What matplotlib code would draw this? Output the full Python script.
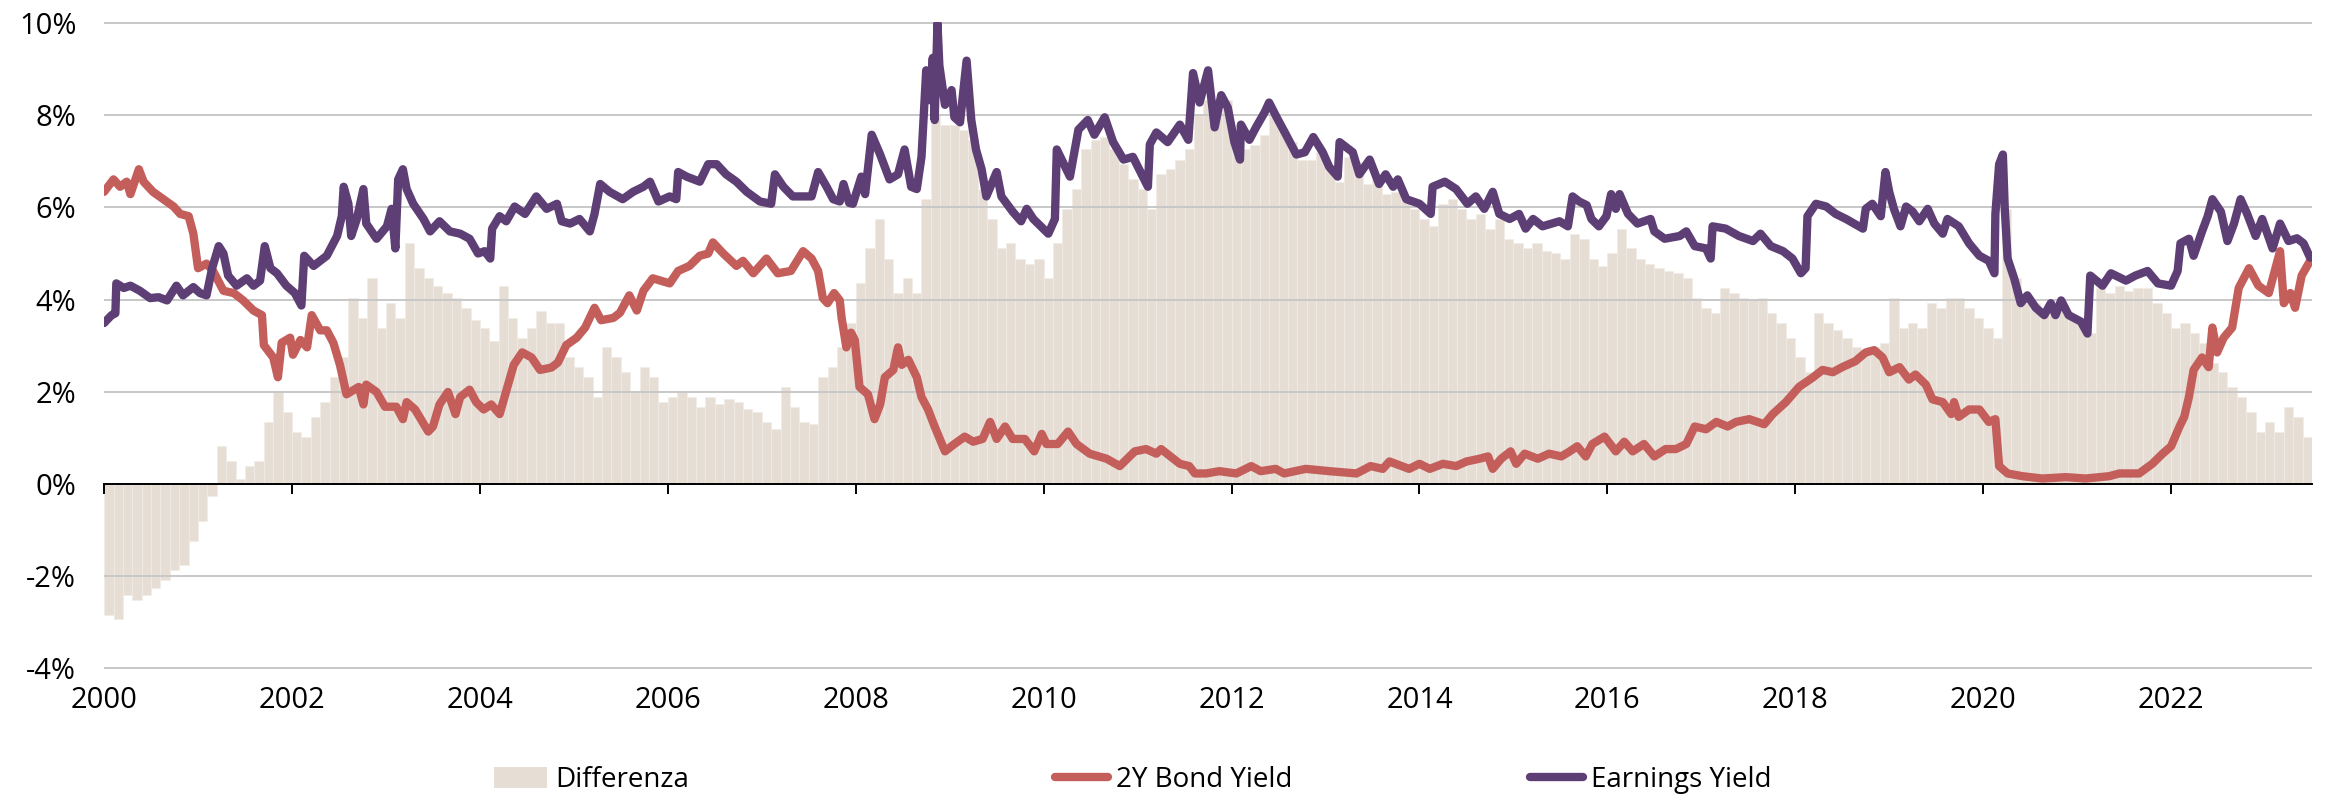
import matplotlib
matplotlib.use("Agg")
import matplotlib.pyplot as plt
from matplotlib.patches import Patch
from matplotlib.lines import Line2D
import numpy as np

plt.rcParams['font.family'] = ['Open Sans', 'DejaVu Sans']

# Earnings Yield (%)
ey_years = [
    2000.00, 2000.08, 2000.12, 2000.13, 2000.21, 2000.28, 2000.38, 2000.49, 2000.58, 2000.67,
    2000.77, 2000.84, 2000.95, 2001.02, 2001.09, 2001.15, 2001.22, 2001.27, 2001.32, 2001.41,
    2001.52, 2001.59, 2001.66, 2001.71, 2001.77, 2001.84, 2001.94, 2002.03, 2002.10, 2002.13,
    2002.23, 2002.37, 2002.48, 2002.53, 2002.55, 2002.60, 2002.63, 2002.69, 2002.76, 2002.79,
    2002.90, 2003.01, 2003.06, 2003.10, 2003.13, 2003.18, 2003.22, 2003.29, 2003.40, 2003.47,
    2003.57, 2003.68, 2003.79, 2003.89, 2003.98, 2004.05, 2004.11, 2004.13, 2004.21, 2004.28,
    2004.37, 2004.48, 2004.60, 2004.71, 2004.82, 2004.87, 2004.96, 2005.06, 2005.17, 2005.22,
    2005.28, 2005.38, 2005.52, 2005.63, 2005.74, 2005.81, 2005.90, 2006.02, 2006.09, 2006.11,
    2006.20, 2006.34, 2006.43, 2006.52, 2006.62, 2006.73, 2006.84, 2006.98, 2007.10, 2007.14,
    2007.23, 2007.33, 2007.53, 2007.60, 2007.69, 2007.76, 2007.83, 2007.87, 2007.93, 2007.97,
    2008.06, 2008.10, 2008.17, 2008.26, 2008.36, 2008.45, 2008.52, 2008.59, 2008.65, 2008.70,
    2008.75, 2008.79, 2008.82, 2008.84, 2008.87, 2008.89, 2008.95, 2009.02, 2009.05, 2009.11,
    2009.18, 2009.23, 2009.28, 2009.34, 2009.39, 2009.50, 2009.55, 2009.67, 2009.76, 2009.82,
    2009.89, 2010.05, 2010.12, 2010.14, 2010.28, 2010.37, 2010.47, 2010.54, 2010.65, 2010.74,
    2010.85, 2010.95, 2011.11, 2011.13, 2011.20, 2011.32, 2011.45, 2011.54, 2011.59, 2011.66,
    2011.75, 2011.82, 2011.89, 2011.96, 2012.03, 2012.09, 2012.10, 2012.19, 2012.26, 2012.35,
    2012.40, 2012.48, 2012.58, 2012.69, 2012.78, 2012.87, 2012.97, 2013.04, 2013.13, 2013.15,
    2013.29, 2013.36, 2013.47, 2013.57, 2013.64, 2013.72, 2013.77, 2013.86, 2014.00, 2014.12,
    2014.14, 2014.27, 2014.39, 2014.51, 2014.60, 2014.69, 2014.78, 2014.85, 2014.96, 2015.06,
    2015.13, 2015.21, 2015.31, 2015.49, 2015.58, 2015.63, 2015.70, 2015.78, 2015.83, 2015.91,
    2015.99, 2016.04, 2016.09, 2016.13, 2016.22, 2016.32, 2016.46, 2016.50, 2016.61, 2016.77,
    2016.84, 2016.93, 2017.05, 2017.10, 2017.12, 2017.26, 2017.40, 2017.55, 2017.63, 2017.74,
    2017.87, 2017.97, 2018.06, 2018.11, 2018.13, 2018.22, 2018.33, 2018.43, 2018.54, 2018.72,
    2018.75, 2018.82, 2018.91, 2018.96, 2019.00, 2019.05, 2019.12, 2019.18, 2019.25, 2019.32,
    2019.41, 2019.48, 2019.57, 2019.62, 2019.74, 2019.85, 2019.96, 2020.06, 2020.12, 2020.13,
    2020.17, 2020.21, 2020.23, 2020.26, 2020.33, 2020.40, 2020.47, 2020.56, 2020.65, 2020.72,
    2020.77, 2020.83, 2020.91, 2021.04, 2021.11, 2021.14, 2021.27, 2021.36, 2021.52, 2021.62,
    2021.75, 2021.86, 2022.00, 2022.07, 2022.10, 2022.19, 2022.24, 2022.33, 2022.39, 2022.44,
    2022.53, 2022.60, 2022.67, 2022.74, 2022.81, 2022.90, 2022.97, 2023.08, 2023.16, 2023.25,
    2023.34, 2023.41, 2023.48,
]
ey_values = [
    3.49, 3.66, 3.70, 4.35, 4.25, 4.30, 4.19, 4.03, 4.05, 3.98,
    4.30, 4.09, 4.27, 4.14, 4.09, 4.68, 5.16, 5.00, 4.52, 4.30,
    4.46, 4.30, 4.41, 5.16, 4.68, 4.57, 4.30, 4.14, 3.87, 4.95,
    4.73, 4.95, 5.38, 5.81, 6.45, 6.08, 5.38, 5.75, 6.40, 5.65,
    5.32, 5.59, 5.97, 5.11, 6.61, 6.83, 6.40, 6.08, 5.75, 5.48,
    5.70, 5.48, 5.43, 5.32, 5.00, 5.05, 4.89, 5.54, 5.81, 5.70,
    6.02, 5.86, 6.24, 5.97, 6.08, 5.70, 5.65, 5.75, 5.48, 5.86,
    6.51, 6.34, 6.18, 6.34, 6.45, 6.56, 6.13, 6.24, 6.18, 6.77,
    6.67, 6.56, 6.94, 6.94, 6.72, 6.56, 6.34, 6.13, 6.08, 6.72,
    6.45, 6.24, 6.24, 6.77, 6.45, 6.18, 6.13, 6.51, 6.10, 6.08,
    6.67, 6.29, 7.58, 7.15, 6.61, 6.72, 7.26, 6.45, 6.40, 7.10,
    8.98, 8.33, 9.25, 7.90, 10.00, 9.09, 8.23, 8.55, 7.96, 7.85,
    9.19, 7.90, 7.26, 6.83, 6.24, 6.77, 6.24, 5.91, 5.70, 5.97,
    5.75, 5.43, 5.75, 7.26, 6.67, 7.69, 7.90, 7.58, 7.96, 7.42,
    7.04, 7.10, 6.45, 7.37, 7.63, 7.42, 7.80, 7.47, 8.92, 8.28,
    8.98, 7.74, 8.44, 8.17, 7.42, 7.04, 7.80, 7.47, 7.74, 8.06,
    8.28, 7.96, 7.58, 7.15, 7.20, 7.53, 7.20, 6.88, 6.67, 7.42,
    7.20, 6.72, 7.04, 6.51, 6.72, 6.45, 6.61, 6.18, 6.08, 5.86,
    6.45, 6.56, 6.40, 6.08, 6.24, 5.97, 6.34, 5.86, 5.75, 5.86,
    5.54, 5.75, 5.59, 5.70, 5.59, 6.24, 6.13, 6.05, 5.75, 5.59,
    5.81, 6.29, 5.97, 6.29, 5.86, 5.65, 5.75, 5.48, 5.32, 5.38,
    5.48, 5.16, 5.11, 4.89, 5.59, 5.54, 5.38, 5.27, 5.43, 5.16,
    5.05, 4.89, 4.57, 4.68, 5.81, 6.08, 6.02, 5.86, 5.75, 5.54,
    5.97, 6.08, 5.81, 6.77, 6.34, 5.97, 5.59, 6.02, 5.91, 5.70,
    5.97, 5.65, 5.43, 5.75, 5.59, 5.22, 4.95, 4.84, 4.57, 5.86,
    6.94, 7.15, 5.97, 4.89, 4.46, 3.92, 4.09, 3.82, 3.66, 3.92,
    3.66, 3.98, 3.66, 3.52, 3.26, 4.52, 4.30, 4.57, 4.41, 4.52,
    4.62, 4.35, 4.30, 4.62, 5.22, 5.32, 4.95, 5.48, 5.81, 6.18,
    5.91, 5.27, 5.65, 6.18, 5.86, 5.38, 5.75, 5.11, 5.65, 5.27,
    5.33, 5.22, 4.91,
]

# 2Y Bond Yield (%)
by_years = [
    2000.00, 2000.10, 2000.17, 2000.24, 2000.28, 2000.37, 2000.42, 2000.52, 2000.63, 2000.74,
    2000.81, 2000.90, 2000.95, 2001.00, 2001.09, 2001.16, 2001.27, 2001.38, 2001.48, 2001.59,
    2001.68, 2001.70, 2001.80, 2001.85, 2001.89, 2001.98, 2002.01, 2002.09, 2002.16, 2002.21,
    2002.30, 2002.37, 2002.44, 2002.51, 2002.58, 2002.71, 2002.76, 2002.79, 2002.90, 2002.99,
    2003.11, 2003.18, 2003.22, 2003.31, 2003.45, 2003.50, 2003.57, 2003.66, 2003.74, 2003.79,
    2003.89, 2003.96, 2004.04, 2004.12, 2004.21, 2004.36, 2004.45, 2004.55, 2004.64, 2004.76,
    2004.83, 2004.92, 2005.03, 2005.12, 2005.22, 2005.29, 2005.42, 2005.49, 2005.59, 2005.67,
    2005.74, 2005.84, 2006.02, 2006.11, 2006.23, 2006.34, 2006.43, 2006.48, 2006.59, 2006.73,
    2006.80, 2006.91, 2007.05, 2007.17, 2007.31, 2007.44, 2007.53, 2007.60, 2007.65, 2007.70,
    2007.77, 2007.83, 2007.85, 2007.90, 2007.95, 2007.99, 2008.04, 2008.13, 2008.20, 2008.26,
    2008.31, 2008.40, 2008.45, 2008.49, 2008.56, 2008.65, 2008.70, 2008.77, 2008.84, 2008.95,
    2009.05, 2009.16, 2009.25, 2009.35, 2009.43, 2009.50, 2009.59, 2009.67, 2009.80, 2009.90,
    2009.98, 2010.03, 2010.15, 2010.26, 2010.35, 2010.49, 2010.67, 2010.81, 2010.97, 2011.09,
    2011.20, 2011.25, 2011.45, 2011.55, 2011.61, 2011.73, 2011.87, 2012.05, 2012.21, 2012.31,
    2012.47, 2012.56, 2012.79, 2013.04, 2013.33, 2013.48, 2013.61, 2013.68, 2013.89, 2014.00,
    2014.11, 2014.25, 2014.39, 2014.50, 2014.64, 2014.73, 2014.78, 2014.87, 2014.97, 2015.03,
    2015.12, 2015.26, 2015.38, 2015.51, 2015.60, 2015.68, 2015.77, 2015.84, 2015.97, 2016.09,
    2016.18, 2016.27, 2016.39, 2016.50, 2016.62, 2016.73, 2016.84, 2016.93, 2017.05, 2017.16,
    2017.28, 2017.37, 2017.51, 2017.67, 2017.76, 2017.90, 2018.04, 2018.19, 2018.29, 2018.40,
    2018.50, 2018.64, 2018.75, 2018.84, 2018.93, 2019.00, 2019.11, 2019.21, 2019.28, 2019.39,
    2019.46, 2019.57, 2019.66, 2019.69, 2019.74, 2019.85, 2019.96, 2020.06, 2020.13, 2020.17,
    2020.26, 2020.42, 2020.63, 2020.88, 2021.09, 2021.34, 2021.45, 2021.66, 2021.80, 2021.91,
    2022.00, 2022.09, 2022.14, 2022.19, 2022.24, 2022.33, 2022.40, 2022.44, 2022.49, 2022.56,
    2022.65, 2022.72, 2022.83, 2022.93, 2023.04, 2023.09, 2023.16, 2023.20, 2023.27, 2023.32,
    2023.39, 2023.48,
]
by_values = [
    6.34, 6.61, 6.45, 6.56, 6.29, 6.83, 6.56, 6.34, 6.18, 6.02,
    5.86, 5.81, 5.43, 4.68, 4.78, 4.62, 4.19, 4.14, 3.98, 3.76,
    3.66, 3.01, 2.74, 2.31, 3.06, 3.17, 2.80, 3.12, 2.96, 3.66,
    3.33, 3.33, 3.06, 2.58, 1.94, 2.10, 1.72, 2.15, 1.99, 1.67,
    1.67, 1.40, 1.77, 1.61, 1.13, 1.24, 1.72, 1.99, 1.51, 1.88,
    2.04, 1.77, 1.61, 1.72, 1.51, 2.58, 2.85, 2.74, 2.47, 2.52,
    2.63, 3.01, 3.17, 3.39, 3.82, 3.55, 3.60, 3.71, 4.09, 3.76,
    4.19, 4.46, 4.35, 4.62, 4.73, 4.95, 5.00, 5.24, 5.00, 4.73,
    4.84, 4.57, 4.89, 4.57, 4.62, 5.05, 4.89, 4.62, 4.03, 3.92,
    4.14, 3.98, 3.60, 2.96, 3.28, 3.12, 2.10, 1.94, 1.40, 1.72,
    2.31, 2.47, 2.96, 2.58, 2.69, 2.31, 1.88, 1.61, 1.24, 0.70,
    0.86, 1.02, 0.91, 0.97, 1.34, 0.97, 1.24, 0.97, 0.97, 0.70,
    1.08, 0.86, 0.86, 1.13, 0.86, 0.65, 0.54, 0.38, 0.70, 0.75,
    0.65, 0.75, 0.43, 0.38, 0.22, 0.22, 0.27, 0.22, 0.38, 0.27,
    0.32, 0.22, 0.32, 0.27, 0.22, 0.38, 0.32, 0.48, 0.32, 0.43,
    0.32, 0.43, 0.38, 0.48, 0.54, 0.59, 0.32, 0.54, 0.70, 0.43,
    0.65, 0.54, 0.65, 0.59, 0.70, 0.81, 0.59, 0.86, 1.02, 0.70,
    0.91, 0.70, 0.86, 0.59, 0.75, 0.75, 0.86, 1.24, 1.18, 1.34,
    1.24, 1.34, 1.40, 1.29, 1.51, 1.77, 2.10, 2.31, 2.47, 2.42,
    2.53, 2.66, 2.85, 2.90, 2.74, 2.42, 2.53, 2.26, 2.37, 2.15,
    1.83, 1.77, 1.51, 1.77, 1.45, 1.61, 1.61, 1.34, 1.40, 0.38,
    0.22, 0.16, 0.11, 0.14, 0.11, 0.16, 0.22, 0.22, 0.43, 0.65,
    0.81, 1.24, 1.45, 1.88, 2.47, 2.74, 2.53, 3.39, 2.85, 3.17,
    3.39, 4.25, 4.68, 4.30, 4.14, 4.52, 5.05, 3.92, 4.14, 3.82,
    4.52, 4.84,
]

# Differenza (Earnings Yield - 2Y Bond Yield, %), one bar every 0.1 year from 2000.0
diff_start = 2000.0
diff_step = 0.1
diff_values = [
    -2.85, -2.95, -2.42, -2.53, -2.42, -2.26, -2.10, -1.88, -1.77, -1.24,
    -0.81, -0.27, 0.81, 0.48, 0.11, 0.38, 0.48, 1.34, 1.99, 1.56,
    1.13, 1.02, 1.45, 1.77, 2.31, 2.74, 4.03, 3.60, 4.46, 3.39,
    3.92, 3.60, 5.22, 4.68, 4.46, 4.30, 4.14, 4.03, 3.82, 3.55,
    3.39, 3.10, 4.30, 3.60, 3.17, 3.39, 3.76, 3.49, 3.49, 2.74,
    2.53, 2.31, 1.88, 2.96, 2.74, 2.42, 1.99, 2.53, 2.31, 1.77,
    1.88, 1.99, 1.88, 1.67, 1.88, 1.72, 1.83, 1.77, 1.61, 1.56,
    1.34, 1.18, 2.10, 1.67, 1.34, 1.29, 2.31, 2.53, 2.96, 3.49,
    4.35, 5.11, 5.75, 4.89, 4.14, 4.46, 4.14, 6.18, 8.01, 7.80,
    7.80, 7.69, 7.47, 6.40, 5.75, 5.11, 5.22, 4.89, 4.78, 4.89,
    4.46, 5.22, 5.97, 6.40, 7.26, 7.47, 7.53, 7.26, 6.94, 6.61,
    6.40, 5.97, 6.72, 6.83, 7.04, 7.26, 8.01, 8.33, 8.12, 8.33,
    7.80, 7.26, 7.36, 7.58, 8.01, 7.69, 7.42, 7.04, 7.04, 7.20,
    6.83, 6.56, 7.10, 6.99, 6.51, 6.61, 6.29, 6.34, 6.18, 5.97,
    5.75, 5.59, 6.08, 6.18, 5.97, 5.75, 5.86, 5.54, 5.75, 5.32,
    5.22, 5.11, 5.22, 5.05, 5.00, 4.89, 5.43, 5.32, 4.89, 4.73,
    5.00, 5.54, 5.11, 4.89, 4.78, 4.68, 4.62, 4.57, 4.46, 4.03,
    3.82, 3.71, 4.25, 4.14, 4.03, 3.98, 4.03, 3.71, 3.49, 3.17,
    2.74, 2.42, 3.71, 3.49, 3.33, 3.17, 2.96, 2.85, 2.96, 3.06,
    4.03, 3.39, 3.49, 3.39, 3.92, 3.82, 4.03, 4.03, 3.82, 3.60,
    3.39, 3.17, 5.97, 4.46, 3.92, 3.92, 3.76, 3.71, 3.82, 3.60,
    3.49, 3.28, 4.25, 4.14, 4.30, 4.19, 4.25, 4.25, 3.92, 3.71,
    3.39, 3.49, 3.28, 3.06, 2.63, 2.42, 2.10, 1.88, 1.56, 1.13,
    1.34, 1.13, 1.67, 1.45, 1.02,
]

year_ticks = [2000, 2002, 2004, 2006, 2008, 2010, 2012, 2014, 2016, 2018, 2020, 2022]
pct_ticks = [-4, -2, 0, 2, 4, 6, 8, 10]

cor_diff = '#E6DED5'
cor_bond = '#C45E5A'
cor_earn = '#5E3F75'

fig = plt.figure(figsize=(23.29, 8), dpi=100)
ax = fig.add_axes([0.0447, 0.1637, 0.948, 0.8088])

diff_years = diff_start + diff_step * np.arange(len(diff_values))
ax.bar(diff_years, diff_values, width=diff_step, align='edge', color=cor_diff,
       edgecolor='#F1ECE6', linewidth=0.5, zorder=1)
ax.plot(by_years, by_values, color=cor_bond, linewidth=6, solid_joinstyle='round',
        solid_capstyle='round', zorder=3)
ax.plot(ey_years, ey_values, color=cor_earn, linewidth=6, solid_joinstyle='round',
        solid_capstyle='round', zorder=4)

ax.set_xlim(2000, 2023.5)
ax.set_ylim(-4.03, 10.03)
ax.set_yticks(pct_ticks)
ax.set_yticklabels([f"{v}%" for v in pct_ticks])
ax.yaxis.grid(True, color='#C8C8C8', linewidth=1.4)
ax.set_axisbelow(False)
ax.tick_params(axis='y', length=0, pad=20, labelsize=21)

for s in ['top', 'right', 'left']:
    ax.spines[s].set_visible(False)
ax.spines['bottom'].set_position(('data', 0))
ax.spines['bottom'].set_linewidth(1.4)
ax.spines['bottom'].set_zorder(5)
ax.set_xticks(year_ticks)
ax.tick_params(axis='x', direction='out', length=7, width=1.4, labelbottom=False)

sec = ax.secondary_xaxis('bottom')
sec.set_xticks(year_ticks)
sec.set_xticklabels([str(a) for a in year_ticks])
sec.tick_params(length=0, pad=12, labelsize=21)
sec.spines['bottom'].set_visible(False)

legendas = [
    (Patch(facecolor=cor_diff, label="Differenza"), 0.2121),
    (Line2D([0], [0], color=cor_bond, linewidth=6, solid_capstyle='round', label="2Y Bond Yield"), 0.4530),
    (Line2D([0], [0], color=cor_earn, linewidth=6, solid_capstyle='round', label="Earnings Yield"), 0.6570),
]
for h, xpos in legendas:
    fig.legend(handles=[h], loc='center left', bbox_to_anchor=(xpos, 0.025), frameon=False,
               fontsize=20, handlelength=1.9, handleheight=0.8, handletextpad=0.3,
               borderpad=0, borderaxespad=0)

fig.savefig("out.png", dpi=100)
